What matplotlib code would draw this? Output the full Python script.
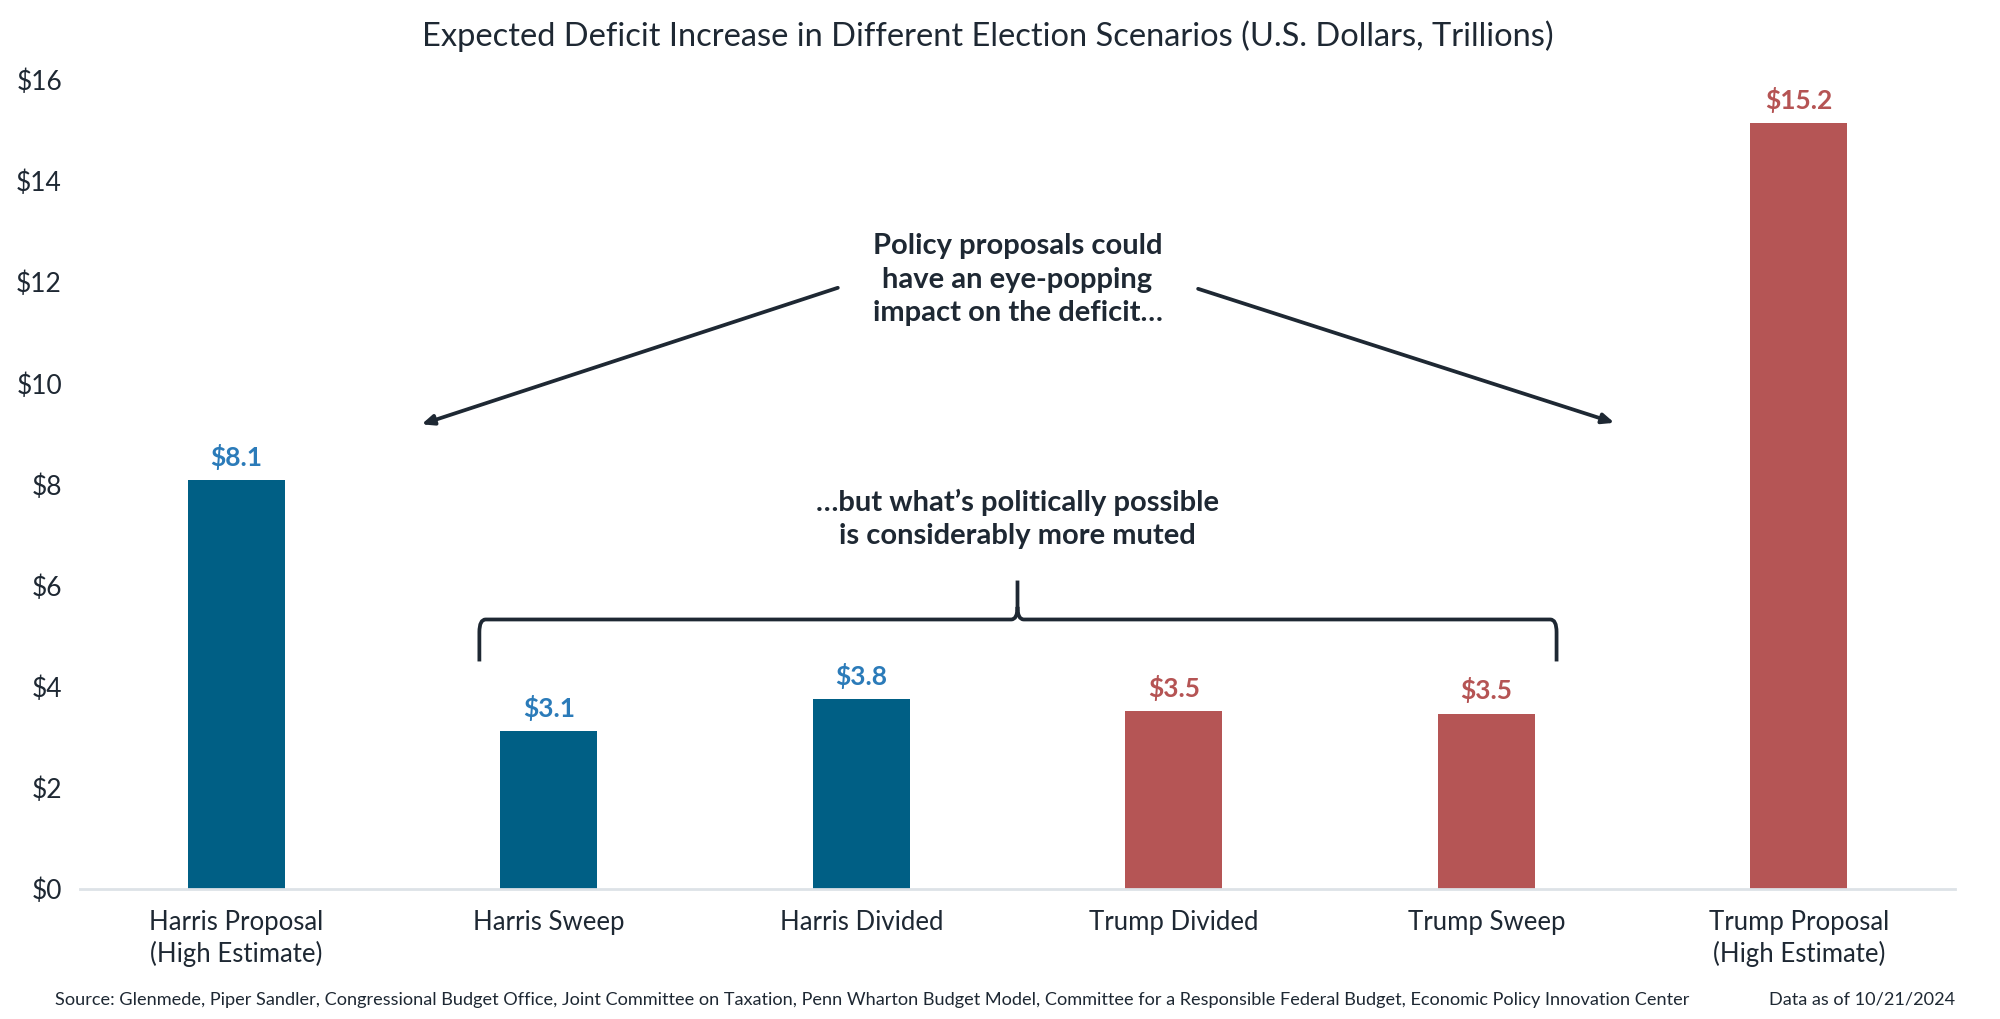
import matplotlib
matplotlib.use("Agg")
import matplotlib.pyplot as plt
from matplotlib.path import Path
from matplotlib.patches import PathPatch

# data
categories = ["Harris Proposal\n(High Estimate)", "Harris Sweep", "Harris Divided",
              "Trump Divided", "Trump Sweep", "Trump Proposal\n(High Estimate)"]
values = [8.08, 3.13, 3.75, 3.52, 3.47, 15.15]
value_labels = ["$8.1", "$3.1", "$3.8", "$3.5", "$3.5", "$15.2"]
party = ["D", "D", "D", "R", "R", "R"]
y_ticks = [0, 2, 4, 6, 8, 10, 12, 14, 16]

bar_col = {"D": "#005F85", "R": "#B55555"}
lab_col = {"D": "#2B7BB9", "R": "#B55454"}
ink = "#1E2833"

plt.rcParams["font.family"] = ["Lato", "DejaVu Sans"]

fig = plt.figure(figsize=(20, 10.19), dpi=100)
ax = fig.add_axes([0.04, 0.1276, 0.9375, 0.7939])

x = list(range(len(categories)))
ax.bar(x, values, width=0.31, color=[bar_col[p] for p in party], zorder=2)
for xi, v, t, p in zip(x, values, value_labels, party):
    ax.text(xi, v + 0.2, t, ha="center", va="bottom", fontsize=19,
            fontweight="bold", color=lab_col[p])

ax.set_xlim(-0.5, 5.5)
ax.set_ylim(0, 16)
ax.set_xticks(x)
ax.set_xticklabels(categories, fontsize=18.5, color=ink, linespacing=1.3)
ax.set_yticks(y_ticks)
ax.set_yticklabels([f"${t}" for t in y_ticks], fontsize=19, color=ink)
ax.tick_params(axis="x", length=0, pad=15)
ax.tick_params(axis="y", length=0, pad=13)
for s in ["top", "right", "left"]:
    ax.spines[s].set_visible(False)
ax.spines["bottom"].set_color("#DDE2E7")
ax.spines["bottom"].set_linewidth(2)

fig.text(0.494, 0.964, "Expected Deficit Increase in Different Election Scenarios (U.S. Dollars, Trillions)",
         ha="center", va="center", fontsize=23.5, color=ink)

# annotations
ax.text(2.5, 12.05, "Policy proposals could\nhave an eye-popping\nimpact on the deficit\u2026",
        ha="center", va="center", fontsize=21, fontweight="bold", color=ink, linespacing=1.35)
arrow = dict(arrowstyle="-|>,head_length=0.7,head_width=0.3", color=ink, lw=2.7,
             shrinkA=0, shrinkB=0)
ax.annotate("", xy=(0.593, 9.19), xytext=(1.925, 11.89), arrowprops=arrow)
ax.annotate("", xy=(4.41, 9.22), xytext=(3.078, 11.87), arrowprops=arrow)

ax.text(2.5, 7.32, "\u2026but what\u2019s politically possible\nis considerably more muted",
        ha="center", va="center", fontsize=21, fontweight="bold", color=ink, linespacing=1.35)

# curly brace
xl, xr, xc = 0.778, 4.225, 2.5
yb, yh, yt = 4.5, 5.33, 6.1
rx, ry = 0.02, 0.25
verts = [(xl, yb), (xl, yh - ry), (xl, yh), (xl + rx, yh),
         (xc - rx, yh), (xc, yh), (xc, yh + ry), (xc, yt),
         (xc, yh + ry), (xc, yh), (xc + rx, yh),
         (xr - rx, yh), (xr, yh), (xr, yh - ry), (xr, yb)]
codes = [Path.MOVETO, Path.LINETO, Path.CURVE3, Path.CURVE3,
         Path.LINETO, Path.CURVE3, Path.CURVE3, Path.LINETO,
         Path.MOVETO, Path.CURVE3, Path.CURVE3,
         Path.LINETO, Path.CURVE3, Path.CURVE3, Path.LINETO]
ax.add_patch(PathPatch(Path(verts, codes), fill=False, edgecolor=ink, lw=2.7,
                       capstyle="butt", joinstyle="round"))

fig.text(0.0275, 0.019, "Source: Glenmede, Piper Sandler, Congressional Budget Office, Joint Committee on Taxation, "
         "Penn Wharton Budget Model, Committee for a Responsible Federal Budget, Economic Policy Innovation Center",
         ha="left", va="center", fontsize=13.1, color=ink)
fig.text(0.9775, 0.019, "Data as of 10/21/2024", ha="right", va="center", fontsize=13.1, color=ink)

fig.savefig("out.png", dpi=100, facecolor="white")
